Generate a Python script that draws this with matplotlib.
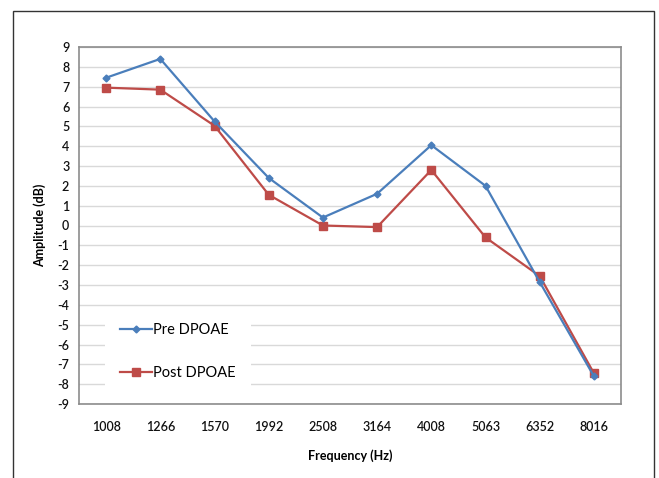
import matplotlib.pyplot as plt
from matplotlib.patches import Rectangle

# data
freqs = ['1008', '1266', '1570', '1992', '2508', '3164', '4008', '5063', '6352', '8016']
pre_dpoae = [7.45, 8.4, 5.25, 2.4, 0.4, 1.6, 4.05, 2.0, -2.85, -7.6]
post_dpoae = [6.95, 6.85, 5.03, 1.55, 0.0, -0.08, 2.8, -0.6, -2.55, -7.45]
y_ticks = list(range(-9, 10))

plt.rcParams['font.family'] = ['Lato', 'DejaVu Sans']
plt.rcParams['axes.unicode_minus'] = False

fig = plt.figure(figsize=(6.59, 4.78), dpi=100)
ax = fig.add_axes([79/659, 1 - 404/478, (621 - 79)/659, (404 - 47)/478])

x = list(range(len(freqs)))
ax.plot(x, pre_dpoae, color='#4A7EBB', lw=1.6, marker='D', ms=3.5,
        label='Pre DPOAE', zorder=4)
ax.plot(x, post_dpoae, color='#BE4B48', lw=1.6, marker='s', ms=5.5,
        label='Post DPOAE', zorder=3)

ax.set_xlim(-0.5, len(freqs) - 0.5)
ax.set_ylim(-9, 9)
ax.set_xticks(x)
ax.set_xticklabels(freqs)
ax.set_yticks(y_ticks)
ax.tick_params(length=0, labelsize=9, colors='#111111', pad=7)
ax.tick_params(axis='x', pad=12)
for lab in ax.get_xticklabels() + ax.get_yticklabels():
    lab.set_fontweight('semibold')

ax.yaxis.grid(True, color='#d9d9d9', lw=1)
ax.set_axisbelow(True)
for s in ax.spines.values():
    s.set_color('#8c8c8c')
    s.set_linewidth(1.2)

ax.set_ylabel('Amplitude (dB)', fontsize=9, fontweight='bold', labelpad=8)
ax.set_xlabel('Frequency (Hz)', fontsize=9, fontweight='bold', labelpad=12)

leg = ax.legend(loc='lower left', bbox_to_anchor=(0.035, 0.005), frameon=True,
                fontsize=10.5, labelspacing=2.0, handlelength=2.2,
                handletextpad=0.1, borderpad=1.0)
leg.get_frame().set_facecolor('white')
leg.get_frame().set_edgecolor('none')
leg.get_frame().set_alpha(1)

# outer chart border
fig.patches.append(Rectangle((13/659, -0.1), (654 - 13)/659, 1.1 - 11/478,
                             transform=fig.transFigure, fill=False,
                             edgecolor='#333333', lw=1.0))

plt.savefig('out.png', dpi=100)
